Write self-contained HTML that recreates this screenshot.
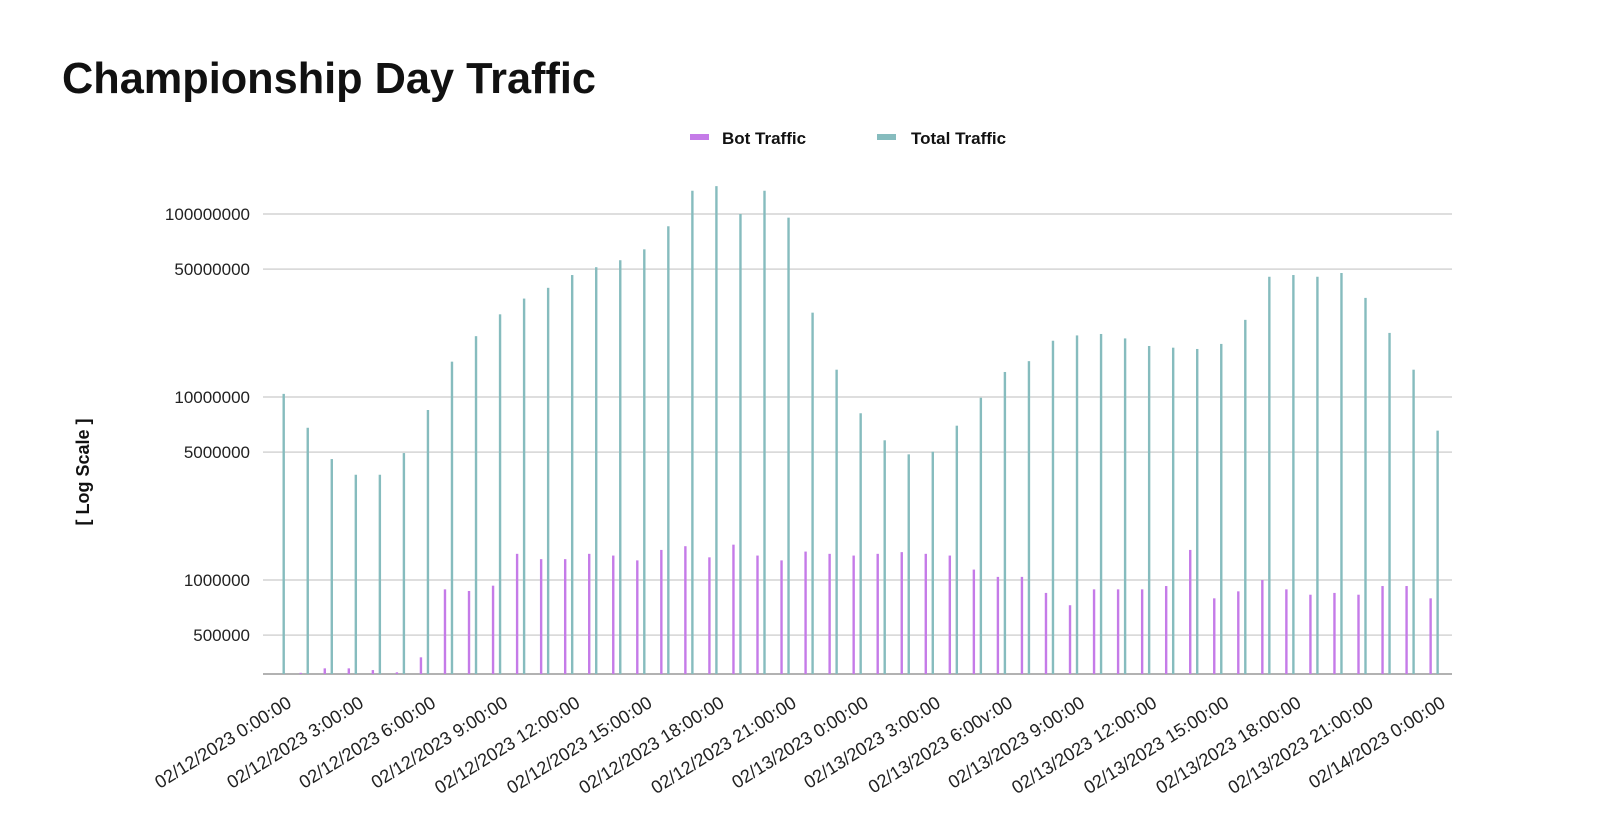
<!DOCTYPE html>
<html><head><meta charset="utf-8"><style>
html,body{margin:0;padding:0;background:#fff;}
svg{display:block;font-family:"Liberation Sans",sans-serif;}
</style></head><body>
<svg id="chart" width="1600" height="838" viewBox="0 0 1600 838" xmlns="http://www.w3.org/2000/svg">
<text x="62" y="93" font-size="44" font-weight="bold" fill="#111" textLength="534" lengthAdjust="spacingAndGlyphs">Championship Day Traffic</text>
<g>
<rect x="690" y="134" width="19" height="6" fill="#c57be8"/>
<text x="722" y="144" font-size="17" font-weight="bold" fill="#111">Bot Traffic</text>
<rect x="877" y="134" width="19" height="6" fill="#86bcbe"/>
<text x="911" y="144" font-size="17" font-weight="bold" fill="#111">Total Traffic</text>
</g>
<text transform="translate(89,472) rotate(-90)" text-anchor="middle" font-size="18" font-weight="bold" fill="#111">[ Log Scale ]</text>
<g id="grid"></g><g id="bars"></g><g id="labels"></g>
</svg>
<script>
const yTicks = [100000000, 50000000, 10000000, 5000000, 1000000, 500000];
const xLabels = ["02/12/2023 0:00:00","02/12/2023 3:00:00","02/12/2023 6:00:00","02/12/2023 9:00:00","02/12/2023 12:00:00","02/12/2023 15:00:00","02/12/2023 18:00:00","02/12/2023 21:00:00","02/13/2023 0:00:00","02/13/2023 3:00:00","02/13/2023 6:00v:00","02/13/2023 9:00:00","02/13/2023 12:00:00","02/13/2023 15:00:00","02/13/2023 18:00:00","02/13/2023 21:00:00","02/14/2023 0:00:00"];
const totalTraffic = [10400000,6790000,4580000,3760000,3760000,4940000,8490000,15600000,21500000,28300000,34500000,39500000,46400000,51200000,55900000,64100000,85700000,134000000,142000000,100000000,134000000,95500000,28900000,14100000,8150000,5800000,4860000,5020000,6970000,9910000,13700000,15700000,20300000,21700000,22100000,20900000,19000000,18600000,18300000,19500000,26400000,45400000,46400000,45400000,47600000,34800000,22400000,14100000,6550000];
const botTraffic = [250000,311000,329000,329000,322000,313000,378000,889000,871000,931000,1390000,1300000,1300000,1390000,1360000,1280000,1460000,1530000,1330000,1560000,1360000,1280000,1430000,1390000,1360000,1390000,1420000,1390000,1360000,1140000,1040000,1040000,850000,728000,889000,889000,889000,927000,1460000,794000,867000,1000000,889000,831000,850000,831000,927000,927000,794000];
const NS="http://www.w3.org/2000/svg";
const base=674, decade=183;
function y(v){return 580-(Math.log10(v)-6)*decade;}
function x(i){return 283.7+i*24.04;}
function mk(t,a,p){const e=document.createElementNS(NS,t);for(const k in a)e.setAttribute(k,a[k]);p.appendChild(e);return e;}
const grid=document.getElementById('grid'),bars=document.getElementById('bars'),labels=document.getElementById('labels');
yTicks.forEach(v=>{
  const l=mk('line',{x1:263,x2:1452,y1:y(v),y2:y(v),stroke:'#d4d4d4','stroke-width':1.5},grid);
  
  
  const t=mk('text',{x:250,y:y(v)+6,'text-anchor':'end','font-size':17,fill:'#222'},grid);
  t.textContent=v;
  
  
});
totalTraffic.forEach((v,i)=>{
  const yt=Math.min(y(v),base);
  const r=mk('rect',{x:x(i)-1.2,y:yt,width:2.4,height:base-yt,fill:'#86bcbe'},bars);
  
  
});
botTraffic.forEach((v,i)=>{
  const yt=Math.min(y(v),base);
  const r=mk('rect',{x:x(i)-8.2,y:yt,width:2.4,height:base-yt,fill:'#c57be8'},bars);
  
  
});
const ax=mk('line',{x1:263,x2:1452,y1:base,y2:base,stroke:'#999','stroke-width':1.5},grid);


xLabels.forEach((s,k)=>{
  const px=x(k*3)+9, py=706;
  const t=mk('text',{x:px,y:py,'text-anchor':'end','font-size':18.2,fill:'#222',transform:`rotate(-32 ${px} ${py})`},labels);
  t.textContent=s;
  
  
});
</script>
</body></html>
